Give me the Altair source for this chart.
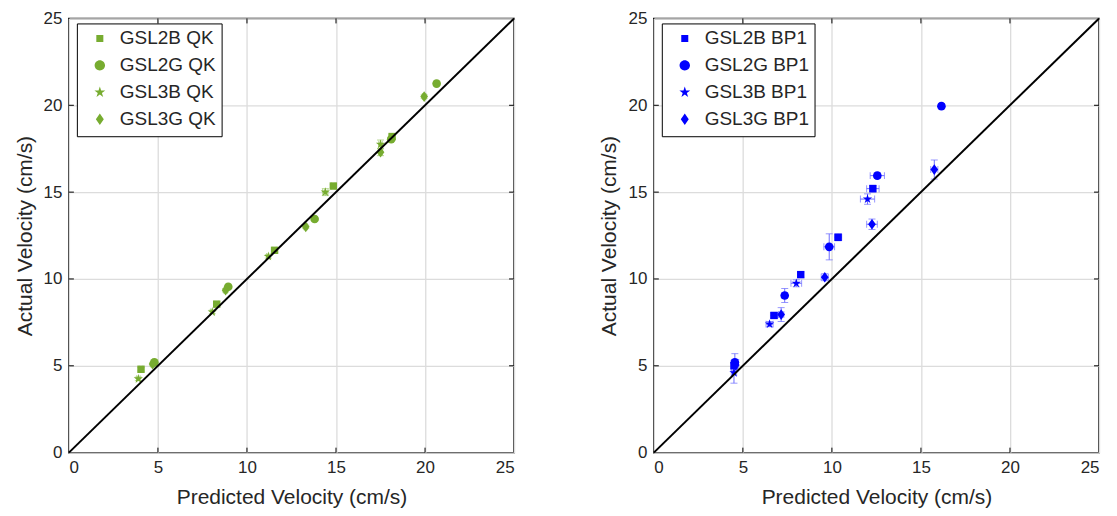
import altair as alt
import pandas as pd

FONT = "Liberation Sans"
TXT = "#262626"

# ---------------- data ----------------
left_names = ["GSL2B QK", "GSL2G QK", "GSL3B QK", "GSL3G QK"]
left_x = [
    [4.05, 8.3, 11.55, 14.85, 18.15],
    [4.8, 8.95, 13.8, 18.1, 20.65],
    [3.9, 8.05, 11.2, 14.4, 17.5],
    [4.7, 8.8, 13.3, 17.5, 19.95],
]
left_y = [
    [4.8, 8.55, 11.65, 15.35, 18.2],
    [5.2, 9.55, 13.45, 18.05, 21.25],
    [4.25, 8.1, 11.3, 15.0, 17.75],
    [5.1, 9.35, 13.0, 17.3, 20.5],
]
left_xerr = [
    [0.1, 0.1, 0.1, 0.1, 0.1],
    [0.1, 0.1, 0.1, 0.1, 0.1],
    [0.1, 0.1, 0.1, 0.15, 0.1],
    [0.1, 0.1, 0.1, 0.1, 0.1],
]
left_yerr = [
    [0.1, 0.1, 0.1, 0.1, 0.1],
    [0.1, 0.1, 0.1, 0.1, 0.1],
    [0.1, 0.1, 0.1, 0.2, 0.25],
    [0.1, 0.1, 0.1, 0.2, 0.1],
]

right_names = ["GSL2B BP1", "GSL2G BP1", "GSL3B BP1", "GSL3G BP1"]
right_x = [
    [4.5, 6.75, 8.25, 10.35, 12.3],
    [4.55, 7.35, 9.85, 12.55, 16.15],
    [4.5, 6.5, 8.0, 12.0],
    [4.6, 7.15, 9.6, 12.25, 15.75],
]
right_y = [
    [5.0, 7.9, 10.25, 12.4, 15.2],
    [5.2, 9.05, 11.85, 15.95, 19.95],
    [4.6, 7.4, 9.75, 14.6],
    [5.05, 7.95, 10.1, 13.15, 16.3],
]
right_xerr = [
    [0.15, 0.2, 0.15, 0.2, 0.35],
    [0.15, 0.15, 0.3, 0.4, 0.1],
    [0.15, 0.2, 0.3, 0.4],
    [0.15, 0.15, 0.2, 0.3, 0.2],
]
right_yerr = [
    [0.3, 0.15, 0.15, 0.2, 0.2],
    [0.5, 0.4, 0.75, 0.15, 0.15],
    [0.6, 0.15, 0.2, 0.3],
    [0.3, 0.4, 0.2, 0.3, 0.55],
]

tick_values = [0, 5, 10, 15, 20, 25]
diag_values = [0, 25]

# marker glyphs (unit coordinates)
STAR = ("M0,-1L0.2245,-0.309L0.951,-0.309L0.363,0.118L0.588,0.809L0,0.382"
        "L-0.588,0.809L-0.363,0.118L-0.951,-0.309L-0.2245,-0.309Z")
DIAMOND = "M0,-1L0.72,0L0,1L-0.72,0Z"
shapes = ["square", "circle", STAR, DIAMOND]
sizes = [55, 115, 120, 110]

# legend glyphs: marker + vertical error bar with caps
EB = "M0,-1L0,1M-0.36,-1L0.36,-1M-0.36,1L0.36,1"
LG_SQUARE = EB + "M-0.37,-0.37L0.37,-0.37L0.37,0.37L-0.37,0.37Z"
LG_CIRCLE = EB + "M-0.55,0A0.55,0.55 0 1,0 0.55,0A0.55,0.55 0 1,0 -0.55,0Z"
LG_STAR = EB + ("M0,-0.6L0.135,-0.185L0.571,-0.185L0.218,0.071L0.353,0.485L0,0.229"
                "L-0.353,0.485L-0.218,0.071L-0.571,-0.185L-0.135,-0.185Z")
LG_DIAMOND = EB + "M0,-0.6L0.42,0L0,0.6L-0.42,0Z"
legend_shapes = [LG_SQUARE, LG_CIRCLE, LG_STAR, LG_DIAMOND]

W, H = 446, 435


def panel(names, xs, ys, xerrs, yerrs, color, errcolor):
    rows = []
    for n, xa, ya, xe, ye in zip(names, xs, ys, xerrs, yerrs):
        for a, b, c, d in zip(xa, ya, xe, ye):
            rows.append(dict(series=n, x=a, y=b, xlo=a - c, xhi=a + c, ylo=b - d, yhi=b + d))
    df = pd.DataFrame(rows)
    sx = alt.Scale(domain=[0, 25], nice=False)
    sy = alt.Scale(domain=[0, 25], nice=False)
    axx = alt.Axis(values=tick_values, grid=True)
    axy = alt.Axis(values=tick_values, grid=True)
    XT = "Predicted Velocity (cm/s)"
    YT = "Actual Velocity (cm/s)"

    def X(f):
        return alt.X(f, scale=sx, axis=axx, title=XT)

    def Y(f):
        return alt.Y(f, scale=sy, axis=axy, title=YT)

    diag = alt.Chart(pd.DataFrame({"v": diag_values})).mark_line(
        color="black", strokeWidth=2
    ).encode(x=X("v:Q"), y=Y("v:Q"))

    base = alt.Chart(df)
    vbar = base.mark_rule(color=errcolor, strokeWidth=1).encode(
        x=X("x:Q"), y=Y("ylo:Q"), y2="yhi:Q")
    hbar = base.mark_rule(color=errcolor, strokeWidth=1).encode(
        y=Y("y:Q"), x=X("xlo:Q"), x2="xhi:Q")
    cap_lo = base.mark_tick(color=errcolor, orient="horizontal", size=7, thickness=1).encode(
        x=X("x:Q"), y=Y("ylo:Q"))
    cap_hi = base.mark_tick(color=errcolor, orient="horizontal", size=7, thickness=1).encode(
        x=X("x:Q"), y=Y("yhi:Q"))
    cap_l = base.mark_tick(color=errcolor, orient="vertical", size=7, thickness=1).encode(
        x=X("xlo:Q"), y=Y("y:Q"))
    cap_r = base.mark_tick(color=errcolor, orient="vertical", size=7, thickness=1).encode(
        x=X("xhi:Q"), y=Y("y:Q"))

    pts = base.mark_point(filled=True, opacity=1, color=color, strokeWidth=0).encode(
        x=X("x:Q"),
        y=Y("y:Q"),
        shape=alt.Shape("series:N", scale=alt.Scale(domain=names, range=shapes), legend=None),
        size=alt.Size("series:N", scale=alt.Scale(domain=names, range=sizes), legend=None),
    )

    legend = alt.Legend(
        title=None, orient="none", legendX=8, legendY=5,
        strokeColor="black", fillColor="white", padding=5,
        labelFont=FONT, labelFontSize=19, labelColor=TXT,
        rowPadding=3, symbolFillColor=color, symbolStrokeColor=errcolor,
        symbolStrokeWidth=1, symbolSize=361, symbolOpacity=1,
        labelOffset=10, symbolOffset=8, cornerRadius=0,
    )
    leg = base.transform_filter("datum.x < -1000").mark_point(
        filled=True, color=color, size=361
    ).encode(
        x=X("x:Q"), y=Y("y:Q"),
        shape=alt.Shape("series:N", scale=alt.Scale(domain=names, range=legend_shapes),
                        legend=legend),
    )

    tdf = pd.DataFrame({"t": tick_values[1:-1]})
    tb = alt.Chart(tdf)
    tk = dict(color="black", strokeWidth=1)
    t_bottom = tb.mark_rule(**tk).encode(x=X("t:Q"), y=alt.value(H), y2=alt.value(H - 5))
    t_top = tb.mark_rule(**tk).encode(x=X("t:Q"), y=alt.value(0), y2=alt.value(5))
    t_left = tb.mark_rule(**tk).encode(y=Y("t:Q"), x=alt.value(0), x2=alt.value(5))
    t_right = tb.mark_rule(**tk).encode(y=Y("t:Q"), x=alt.value(W), x2=alt.value(W - 5))

    return alt.layer(
        vbar, hbar, cap_lo, cap_hi, cap_l, cap_r, pts, diag,
        t_bottom, t_top, t_left, t_right, leg,
    ).resolve_scale(shape="independent").properties(width=W, height=H)


left = panel(left_names, left_x, left_y, left_xerr, left_yerr, "#77AC30", "#9cc96a")
right = panel(right_names, right_x, right_y, right_xerr, right_yerr, "#0000FF", "#6b6bff")

chart = alt.hconcat(left, right, spacing=140, bounds="flush").resolve_scale(
    shape="independent", size="independent"
).resolve_legend(shape="independent", size="independent").configure_view(
    stroke="black", strokeWidth=1.5
).configure_axis(
    domain=False, ticks=False, gridColor="#dcdcdc", gridWidth=1.3,
    labelFont=FONT, labelFontSize=17, labelColor=TXT, labelPadding=7,
    titleFont=FONT, titleFontSize=21, titleColor=TXT, titleFontWeight="normal",
).configure_axisX(titlePadding=11).configure_axisY(titlePadding=8).properties(
    background="white", padding={"left": 5, "top": 0, "right": 5, "bottom": 5}
)

chart.save("out.html", embed_options={"renderer": "svg", "actions": False})
